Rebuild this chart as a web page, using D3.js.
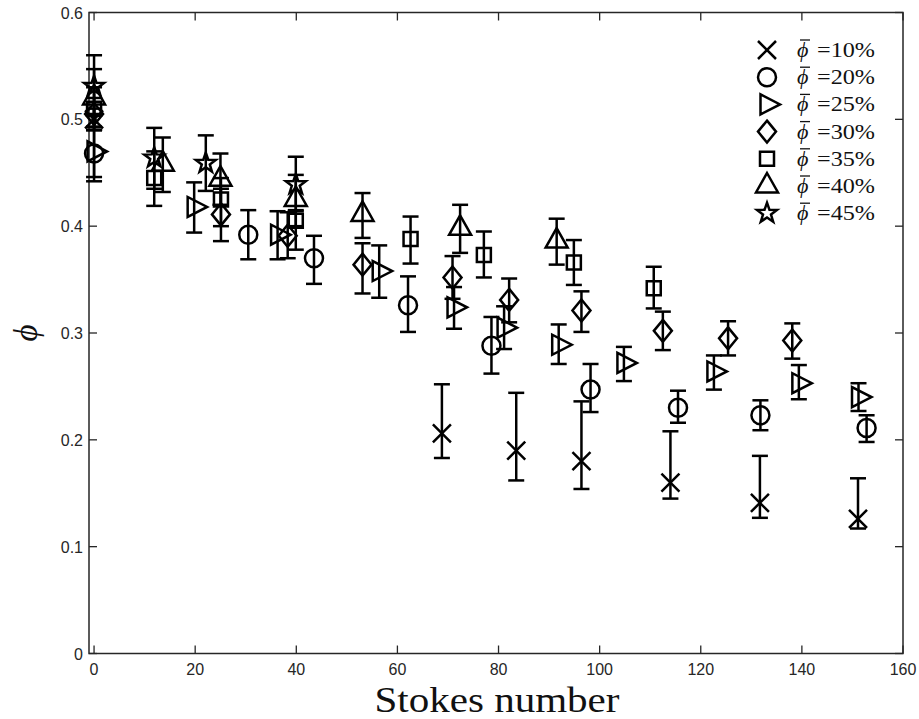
<!DOCTYPE html>
<html><head><meta charset="utf-8">
<script src="https://cdn.jsdelivr.net/npm/d3@7"></script>
<style>body{margin:0;background:#fff}svg{display:block}</style>
</head><body>
<svg id="c" width="919" height="719"></svg>
<script>
// ---- data: [Stokes number, phi, lower, upper]
const labels = ["10%","20%","25%","30%","35%","40%","45%"];
const symbols = ["x","circle","tri-right","diamond","square","tri-up","star"];
const s10 = [[0,0.500,0.490,0.510],[68.8,0.206,0.183,0.252],[83.5,0.190,0.162,0.244],[96.4,0.180,0.154,0.236],[114.0,0.160,0.145,0.208],[131.7,0.141,0.127,0.185],[151.1,0.126,0.117,0.164]];
const s20 = [[0,0.468,0.446,0.490],[30.5,0.392,0.369,0.415],[43.5,0.370,0.346,0.391],[62.1,0.326,0.301,0.353],[78.6,0.288,0.262,0.315],[98.2,0.247,0.226,0.271],[115.5,0.230,0.216,0.246],[131.8,0.223,0.209,0.237],[152.8,0.211,0.198,0.223]];
const s25 = [[0,0.470,0.442,0.493],[19.8,0.418,0.394,0.441],[36.3,0.392,0.369,0.414],[56.4,0.358,0.333,0.382],[71.2,0.324,0.304,0.343],[81.1,0.305,0.285,0.325],[91.9,0.289,0.271,0.308],[104.8,0.272,0.255,0.287],[122.6,0.264,0.247,0.279],[139.4,0.253,0.238,0.270],[151.2,0.240,0.227,0.253]];
const s30 = [[0,0.505,0.490,0.520],[25.1,0.411,0.386,0.435],[38.3,0.391,0.370,0.413],[53.1,0.364,0.337,0.384],[70.9,0.352,0.332,0.372],[82.1,0.331,0.310,0.351],[96.4,0.321,0.301,0.339],[112.5,0.302,0.284,0.320],[125.4,0.295,0.279,0.311],[138.1,0.293,0.276,0.309]];
const s35 = [[0,0.510,0.490,0.530],[11.9,0.445,0.419,0.470],[25.1,0.425,0.400,0.445],[39.9,0.405,0.378,0.414],[62.6,0.388,0.365,0.409],[77.1,0.373,0.352,0.395],[94.9,0.366,0.345,0.387],[110.7,0.342,0.323,0.362]];
const s40 = [[0,0.520,0.493,0.547],[13.6,0.458,0.432,0.483],[25.0,0.444,0.420,0.468],[39.9,0.425,0.400,0.448],[53.1,0.411,0.389,0.431],[72.4,0.398,0.375,0.420],[91.5,0.386,0.364,0.407]];
const s45 = [[0,0.531,0.505,0.560],[11.9,0.464,0.435,0.492],[22.1,0.459,0.433,0.485],[39.9,0.439,0.415,0.465]];
const series = [s10,s20,s25,s30,s35,s40,s45];
const xTicks = [0,20,40,60,80,100,120,140,160];
const yTicks = [0,0.1,0.2,0.3,0.4,0.5,0.6];

const svg = d3.select("#c");
const L=89,R=903,T=12.5,B=653.5;
const x = d3.scaleLinear().domain([-1,160]).range([L,R]);
const y = d3.scaleLinear().domain([0,0.6]).range([B,T]);
const axisColor="#262626";

function symPath(t){
  switch(t){
    case "x": return "M-9,-9L9,9M-9,9L9,-9";
    case "circle": return "M9,0A9,9 0 1,1 -9,0A9,9 0 1,1 9,0Z";
    case "tri-right": return "M-6.5,-10L-6.5,10L13,0Z";
    case "diamond": return "M0,-11L9,0L0,11L-9,0Z";
    case "square": return "M-7,-7L7,-7L7,7L-7,7Z";
    case "tri-up": return "M0,-13L11,6.5L-11,6.5Z";
    case "star": {
      let p=[];for(let i=0;i<10;i++){const r=i%2?4.2:10.5;const a=-Math.PI/2+i*Math.PI/5;p.push([r*Math.cos(a),r*Math.sin(a)]);}
      return "M"+p.map(d=>d[0].toFixed(2)+","+d[1].toFixed(2)).join("L")+"Z";
    }
  }
}

// axes box
const g = svg.append("g");
g.append("rect").attr("x",L).attr("y",T).attr("width",R-L).attr("height",B-T)
 .attr("fill","none").attr("stroke",axisColor).attr("stroke-width",1.5);
const tl=8;
xTicks.forEach(v=>{
  g.append("line").attr("x1",x(v)).attr("x2",x(v)).attr("y1",B).attr("y2",B-tl).attr("stroke",axisColor).attr("stroke-width",1.3);
  g.append("line").attr("x1",x(v)).attr("x2",x(v)).attr("y1",T).attr("y2",T+tl).attr("stroke",axisColor).attr("stroke-width",1.3);
  g.append("text").attr("x",x(v)).attr("y",B+21).attr("text-anchor","middle")
   .attr("font-family","Liberation Sans, Arial, sans-serif").attr("font-size",16).attr("fill",axisColor).text(v);
});
yTicks.forEach(v=>{
  g.append("line").attr("x1",L).attr("x2",L+tl).attr("y1",y(v)).attr("y2",y(v)).attr("stroke",axisColor).attr("stroke-width",1.3);
  g.append("line").attr("x1",R).attr("x2",R-tl).attr("y1",y(v)).attr("y2",y(v)).attr("stroke",axisColor).attr("stroke-width",1.3);
  g.append("text").attr("x",L-6).attr("y",y(v)+6).attr("text-anchor","end")
   .attr("font-family","Liberation Sans, Arial, sans-serif").attr("font-size",16).attr("fill",axisColor)
   .text(v===0?"0":d3.format(".1f")(v));
});

// titles
svg.append("text").attr("x",(L+R)/2+1).attr("y",712).attr("text-anchor","middle")
 .attr("font-family","Liberation Serif, DejaVu Serif, serif").attr("font-size",36).attr("fill","#111")
 .attr("textLength",245).attr("lengthAdjust","spacingAndGlyphs").text("Stokes number");
svg.append("text").attr("transform","translate(37,333) rotate(-90)").attr("text-anchor","middle")
 .attr("font-family","Liberation Serif, DejaVu Serif, serif").attr("font-style","italic").attr("font-size",33).attr("fill","#111").text("ϕ");

// data
const cap=8;
series.forEach((s,i)=>{
  const sg = svg.append("g");
  s.forEach(d=>{
    const cx=x(d[0]);
    sg.append("line").attr("x1",cx).attr("x2",cx).attr("y1",y(d[2])).attr("y2",y(d[3])).attr("stroke","#000").attr("stroke-width",2.5);
    [d[2],d[3]].forEach(v=>sg.append("line").attr("x1",cx-cap).attr("x2",cx+cap).attr("y1",y(v)).attr("y2",y(v)).attr("stroke","#000").attr("stroke-width",2.5));
    sg.append("path").attr("d",symPath(symbols[i])).attr("transform",`translate(${cx},${y(d[1])})`)
      .attr("fill","none").attr("stroke","#000").attr("stroke-width",2.5).attr("stroke-linejoin","miter");
  });
});

// legend
const lg = svg.append("g");
labels.forEach((l,i)=>{
  const ly = 50 + i*27.2;
  lg.append("path").attr("d",symPath(symbols[i])).attr("transform",`translate(767,${ly})`)
    .attr("fill","none").attr("stroke","#000").attr("stroke-width",2.5);
  lg.append("text").attr("x",797).attr("y",ly+7).attr("font-family","Liberation Serif, DejaVu Serif, serif")
    .attr("font-style","italic").attr("font-size",22).attr("fill","#111").text("ϕ");
  lg.append("line").attr("x1",800).attr("x2",810).attr("y1",ly-10).attr("y2",ly-10).attr("stroke","#111").attr("stroke-width",1.3);
  lg.append("text").attr("x",817).attr("y",ly+7).attr("font-family","Liberation Serif, DejaVu Serif, serif")
    .attr("font-size",22).attr("fill","#111").attr("textLength",58).attr("lengthAdjust","spacingAndGlyphs").text("="+l);
});
</script>
</body></html>
